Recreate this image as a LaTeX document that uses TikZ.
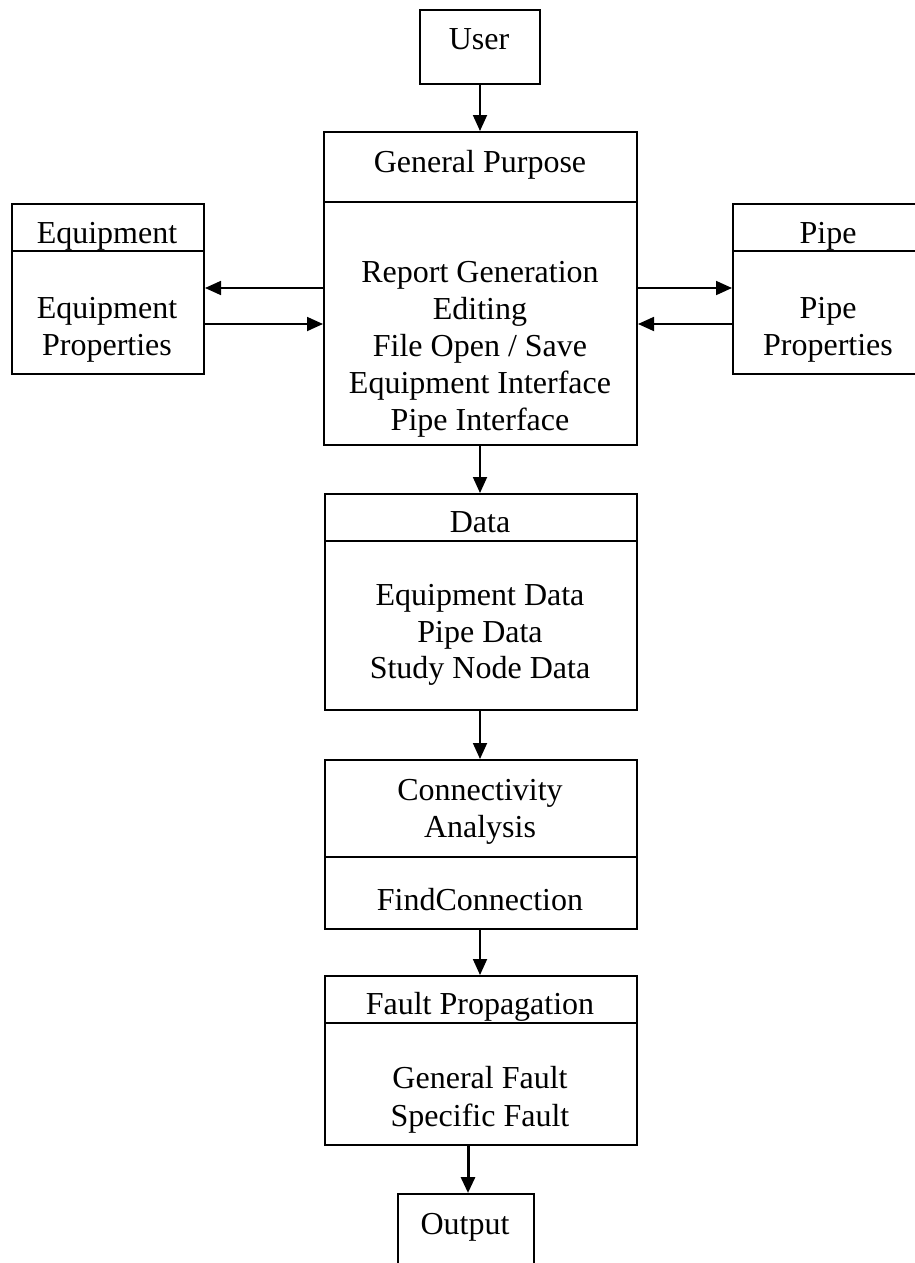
\documentclass[tikz,border=0pt]{standalone}
\usepackage{fontspec}
\setmainfont{Liberation Serif}
\usetikzlibrary{arrows.meta}
\begin{document}
\begin{tikzpicture}[x=1pt,y=-1pt,
  box/.style={draw,line width=2pt,inner sep=0pt,anchor=north west},
  rule/.style={line width=2pt},
  lbl/.style={anchor=base,inner sep=0pt,font=\fontsize{32}{37}\selectfont},
  arr/.style={line width=1.8pt,-{Triangle[length=16pt,width=14pt]}}]
\useasboundingbox (0,0) rectangle (915,1263);
\clip (0,0) rectangle (915,1263);
\fill[white] (0,0) rectangle (915,1263);

% boxes
\node[box,minimum width=120pt,minimum height=74pt]  (user) at (419,9) {};
\node[box,minimum width=313pt,minimum height=313pt] (gp)   at (323,131) {};
\node[box,minimum width=192pt,minimum height=170pt] (eq)   at (11,203) {};
\node[box,minimum width=192pt,minimum height=170pt] (pipe) at (732,203) {};
\node[box,minimum width=312pt,minimum height=216pt] (data) at (324,493) {};
\node[box,minimum width=312pt,minimum height=169pt] (conn) at (324,759) {};
\node[box,minimum width=312pt,minimum height=169pt] (fault) at (324,975) {};
\node[box,minimum width=136pt,minimum height=100pt] (out)  at (397,1193) {};

% section dividers
\draw[rule] (gp.west |- 0,202) -- (gp.east |- 0,202);
\draw[rule] (eq.west |- 0,251) -- (eq.east |- 0,251);
\draw[rule] (pipe.west |- 0,251) -- (pipe.east |- 0,251);
\draw[rule] (data.west |- 0,541) -- (data.east |- 0,541);
\draw[rule] (conn.west |- 0,857) -- (conn.east |- 0,857);
\draw[rule] (fault.west |- 0,1023) -- (fault.east |- 0,1023);

% texts
\node[lbl] (tuser) at (479,50) {User};
\node[lbl] (tgp) at (480,172) {General Purpose};
\node[lbl] (tgp1) at (480,282) {Report Generation};
\node[lbl] (tgp2) at (480,319) {Editing};
\node[lbl] (tgp3) at (480,356) {File Open / Save};
\node[lbl] (tgp4) at (480,393) {Equipment Interface};
\node[lbl] (tgp5) at (480,430) {Pipe Interface};
\node[lbl] (teq) at (107,243) {Equipment};
\node[lbl] (teq1) at (107,318) {Equipment};
\node[lbl] (teq2) at (107,355) {Properties};
\node[lbl] (tpipe) at (828,243) {Pipe};
\node[lbl] (tpipe1) at (828,318) {Pipe};
\node[lbl] (tpipe2) at (828,355) {Properties};
\node[lbl] (tdata) at (480,532) {Data};
\node[lbl] (tdata1) at (480,605) {Equipment Data};
\node[lbl] (tdata2) at (480,642) {Pipe Data};
\node[lbl] (tdata3) at (480,678) {Study Node Data};
\node[lbl] (tconn1) at (480,800) {Connectivity};
\node[lbl] (tconn2) at (480,837) {Analysis};
\node[lbl] (tfind) at (480,910) {FindConnection};
\node[lbl] (tfault) at (480,1014) {Fault Propagation};
\node[lbl] (tfault1) at (480,1088) {General Fault};
\node[lbl] (tfault2) at (480,1126) {Specific Fault};
\node[lbl] (tout) at (465,1234) {Output};

% connectors
\draw[arr] (user.south) -- (gp.north -| user.south);
\draw[arr] (gp.south -| 480,0) -- (data.north -| 480,0);
\draw[arr] (data.south -| 480,0) -- (conn.north -| 480,0);
\draw[arr] (conn.south -| 480,0) -- (fault.north -| 480,0);
\draw[arr,line width=3pt] (fault.south -| 468,0) -- (out.north -| 468,0);
\draw[arr] (gp.west |- 0,288) -- (eq.east |- 0,288);
\draw[arr] (eq.east |- 0,324) -- (gp.west |- 0,324);
\draw[arr] (gp.east |- 0,288) -- (pipe.west |- 0,288);
\draw[arr] (pipe.west |- 0,324) -- (gp.east |- 0,324);
\end{tikzpicture}
\end{document}
